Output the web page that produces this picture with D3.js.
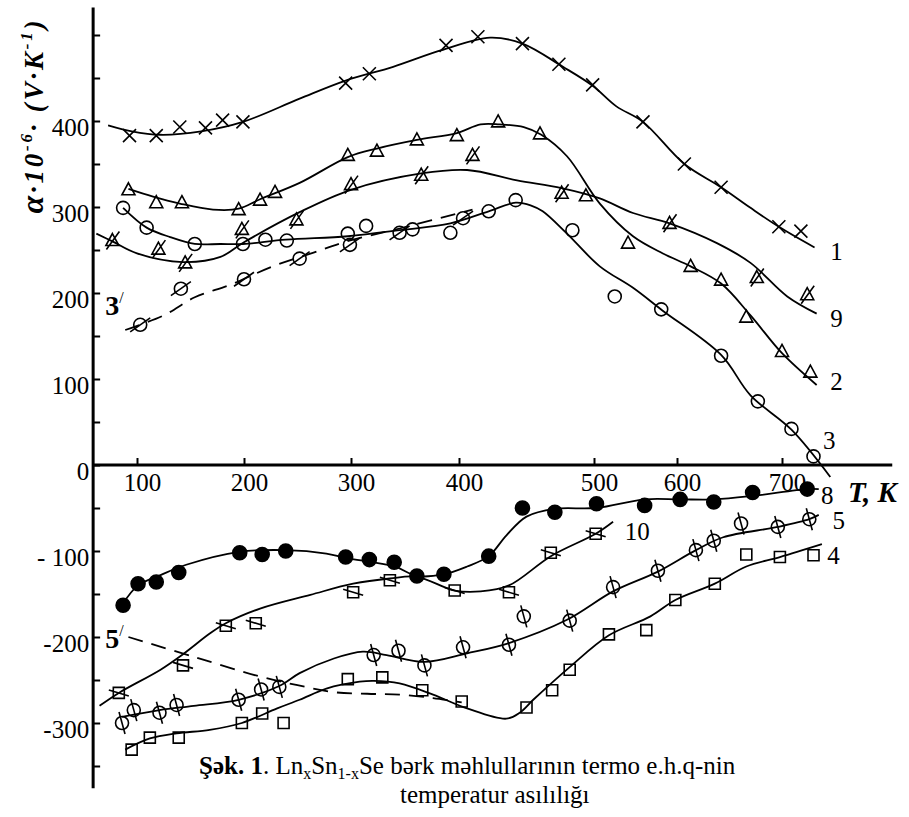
<!DOCTYPE html>
<html>
<head>
<meta charset="utf-8">
<script src="https://cdn.jsdelivr.net/npm/d3@7/dist/d3.min.js"></script>
<style>
body { margin: 0; background: #fff; }
svg text { font-family: "Liberation Serif", "Times New Roman", serif; }
</style>
</head>
<body>
<div id="chart"></div>
<script>
// temperature ticks of the x axis (hand drawn: the ticks are not evenly spaced)
var xTickValues = [100, 200, 300, 400, 500, 600, 700];
var xTickPixels = [137, 244, 351, 459, 594, 677, 782];

var yTickValues = [-350, -300, -250, -200, -150, -100, -50, 0, 50, 100, 150, 200, 250, 300, 350, 400, 450, 500];
var yLabelValues = [-300, -200, -100, 0, 100, 200, 300, 400];
var yLabelTexts = ["-300", "-200", "- 100", "0", "100", "200", "300", "400"];

// [T (K), alpha (µV/K)] measured points and the drawn curves, per sample
var pts1 = [[93,383],[118,383],[140,393],[164,392],[180,401],[199,399],[295,444],[317,455],[388,488],[414,498],[447,490],[474,466],[499,442],[559,399],[607,350],[642,323],[697,277],[718,272]];
var line1 = [[73,395],[95,388],[122,384],[160,388],[199,399],[252,426],[295,447],[339,463],[383,482],[423,497],[447,490],[477,463],[499,441],[527,417],[559,399],[607,350],[642,323],[670,299],[697,277],[731,253]];

var pts9 = [[77,261],[120,251],[145,235],[198,274],[249,285],[300,326],[365,337],[410,360],[476,316],[591,281],[676,218],[724,198]];
var line9 = [[62,269],[77,260],[100,246],[143,236],[178,242],[200,259],[252,294],[300,320],[365,339],[406,343],[443,331],[476,322],[507,310],[547,293],[591,281],[638,258],[670,235],[705,196],[733,176]];

var pts2 = [[92,320],[118,305],[142,305],[195,297],[215,308],[229,317],[297,360],[324,365],[361,378],[398,383],[429,399],[460,385],[494,313],[541,258],[613,231],[642,215],[666,172],[700,132],[727,108]];
var line2 = [[92,321],[115,312],[140,304],[171,297],[195,298],[215,309],[252,328],[297,358],[324,368],[361,378],[398,386],[416,396],[430,396],[448,393],[461,384],[480,359],[507,304],[547,266],[583,246],[613,231],[642,211],[670,174],[700,130],[733,93]];

var pts3 = [[87,299],[109,276],[154,257],[199,257],[220,262],[240,261],[297,269],[314,278],[357,274],[392,270],[422,295],[442,308],[484,273],[525,196],[581,181],[642,127],[677,74],[709,42],[730,10]];
var line3 = [[87,299],[109,276],[131,265],[154,257],[178,257],[199,257],[239,262],[297,266],[345,273],[392,281],[422,295],[442,305],[453,302],[462,295],[480,269],[507,231],[547,206],[582,180],[642,128],[670,81],[709,41],[746,-14]];

var pts3p = [[103,163],[141,205],[200,216],[252,240],[299,256],[345,270],[403,287]];
var line3p = [[89,157],[125,174],[154,195],[188,210],[227,231],[265,247],[296,260],[345,275],[410,297]];

var pts8 = [[87,-163],[101,-138],[118,-136],[139,-125],[196,-102],[217,-104],[239,-100],[295,-107],[317,-110],[340,-113],[361,-129],[386,-127],[422,-106],[447,-50],[471,-55],[503,-45],[561,-47],[603,-40],[635,-43],[672,-32],[724,-28]];
var line8 = [[87,-161],[101,-140],[122,-128],[146,-116],[196,-101],[239,-99],[277,-103],[295,-108],[340,-118],[361,-129],[386,-127],[406,-118],[422,-106],[435,-82],[450,-60],[471,-51],[503,-50],[561,-40],[603,-40],[636,-40],[672,-36],[724,-28],[735,-28]];

var pts10 = [[83,-265],[143,-233],[183,-187],[211,-184],[302,-148],[336,-134],[396,-146],[437,-148],[468,-102],[502,-80]];
var line10 = [[65,-280],[83,-265],[122,-238],[143,-220],[168,-196],[183,-184],[215,-167],[262,-151],[302,-138],[336,-132],[361,-130],[396,-146],[416,-147],[437,-140],[468,-106],[502,-80],[523,-66]];

var pts5 = [[86,-300],[97,-285],[121,-288],[137,-279],[195,-273],[216,-261],[233,-258],[321,-221],[344,-216],[368,-233],[403,-212],[437,-209],[448,-176],[482,-181],[523,-142],[577,-123],[618,-99],[635,-88],[661,-68],[696,-72],[726,-63]];
var line5 = [[86,-293],[121,-285],[153,-280],[195,-273],[233,-257],[252,-242],[284,-225],[311,-217],[333,-221],[368,-229],[406,-219],[437,-207],[480,-180],[523,-147],[577,-124],[618,-99],[644,-84],[696,-72],[726,-63],[735,-58]];

var line5p = [[92,-200],[153,-223],[215,-246],[250,-256],[283,-264],[315,-266],[345,-267],[376,-271],[402,-276]];

var pts4 = [[95,-331],[112,-317],[139,-317],[198,-300],[217,-289],[237,-300],[297,-249],[329,-247],[366,-262],[402,-275],[450,-282],[469,-262],[482,-238],[518,-197],[563,-192],[598,-157],[636,-138],[666,-104],[698,-107],[730,-105]];
var line4 = [[89,-331],[112,-318],[137,-312],[168,-308],[198,-300],[231,-283],[252,-273],[277,-260],[308,-252],[321,-251],[345,-254],[376,-267],[406,-283],[435,-295],[445,-288],[455,-273],[482,-235],[518,-198],[568,-176],[598,-157],[636,-138],[666,-118],[698,-107],[738,-92]];

// curve numbers: [text, T, alpha] at the label centre
var curveLabels = [["1",752,248],["9",752,171],["2",752,97],["3",745,29],["8",743,-35],["5",754,-64],["4",749,-105],["10",552,-77]];
var primeLabels = [["3",79,186],["5",79,-201]];

var Y_AXIS_AT = 59;     // temperature where the alpha axis stands
var X_AXIS_END = 805;
var Y_TOP = 532;
var Y_BOTTOM = -376;

var svg = d3.select("#chart")
			.append("svg")
			.attr("width", 909)
			.attr("height", 817)
			.attr("font-family", "Liberation Serif");

svg.append("rect").attr("width", 909).attr("height", 817).attr("fill", "#fff");

var x = d3.scaleLinear()
			.domain(xTickValues)
			.range(xTickPixels);

var y = d3.scaleLinear()
			.domain([-350, 500])
			.range([766, 35]);

var line = d3.line()
			.x(function(d) { return x(d[0]); })
			.y(function(d) { return y(d[1]); })
			.curve(d3.curveCatmullRom.alpha(0.5));

//axes
var xAxis = d3.axisBottom(x)
			.tickValues(xTickValues)
			.tickSize(-7)
			.tickPadding(8)
			.tickFormat(function(d) { return d; });

var gx = svg.append("g")
			.attr("transform", "translate(0," + y(0) + ")")
			.call(xAxis);
gx.select(".domain").remove();
gx.selectAll("line").attr("stroke-width", 2);
gx.attr("font-size", 25).attr("font-family", null);
gx.selectAll("text").attr("dx", 5);

var yAxis = d3.axisLeft(y)
			.tickValues(yTickValues)
			.tickSize(-7)
			.tickPadding(4)
			.tickFormat(function(d) {
				var i = yLabelValues.indexOf(d);
				return i < 0 ? "" : yLabelTexts[i];
			});

var gy = svg.append("g")
			.attr("transform", "translate(" + x(Y_AXIS_AT) + ",0)")
			.call(yAxis);
gy.select(".domain").remove();
gy.selectAll("line").attr("stroke-width", 2);
gy.attr("font-size", 25).attr("font-family", null);
gy.selectAll("text").attr("dy", "0.58em");

svg.append("line")
	.attr("x1", x(Y_AXIS_AT)).attr("x2", x(Y_AXIS_AT))
	.attr("y1", y(Y_TOP)).attr("y2", y(Y_BOTTOM))
	.attr("stroke", "#000").attr("stroke-width", 3);

svg.append("line")
	.attr("x1", x(Y_AXIS_AT)).attr("x2", x(X_AXIS_END))
	.attr("y1", y(0)).attr("y2", y(0))
	.attr("stroke", "#000").attr("stroke-width", 3);

//curves
var curves = [
	{pts: pts1, line: line1, mark: "cross"},
	{pts: pts9, line: line9, mark: "triSlash"},
	{pts: pts2, line: line2, mark: "tri"},
	{pts: pts3, line: line3, mark: "circle"},
	{pts: pts3p, line: line3p, mark: "circleSlash", dash: true},
	{pts: pts8, line: line8, mark: "dot"},
	{pts: pts10, line: line10, mark: "squareSlash"},
	{pts: pts5, line: line5, mark: "phi"},
	{pts: [], line: line5p, mark: "", dash: true},
	{pts: pts4, line: line4, mark: "square"}
];

var MARK_PATHS = {
	cross: "M-6.5,-6.5L6.5,6.5M-6.5,6.5L6.5,-6.5",
	tri: "M0,-7L6.5,5L-6.5,5Z",
	triSlash: "M0,-7L6.5,5L-6.5,5Z M-6,9L7,-9",
	circleSlash: "M-10,7L10,-7",
	phi: "M-3,-11L3,11",
	square: "M-5.5,-5.5H5.5V5.5H-5.5Z",
	squareSlash: "M-5.5,-5.5H5.5V5.5H-5.5Z M-10,-3L10,3"
};

var plot = svg.append("g");

curves.forEach(function(c)
{
	plot.append("path")
		.datum(c.line)
		.attr("fill", "none")
		.attr("stroke", "#000")
		.attr("stroke-width", 1.8)
		.attr("stroke-dasharray", c.dash ? "15,9" : null)
		.attr("d", line);

	var m = plot.selectAll(null)
		.data(c.pts)
		.enter().append("g")
		.attr("transform", function(d) { return "translate(" + x(d[0]) + "," + y(d[1]) + ")"; });

	if (c.mark == "circle" || c.mark == "circleSlash" || c.mark == "phi" || c.mark == "dot")
	{
		m.append("circle")
			.attr("r", c.mark == "dot" ? 7 : 6.5)
			.attr("fill", c.mark == "dot" ? "#000" : "none")
			.attr("stroke", "#000")
			.attr("stroke-width", 1.6);
	}
	if (MARK_PATHS[c.mark])
	{
		m.append("path")
			.attr("d", MARK_PATHS[c.mark])
			.attr("fill", "none")
			.attr("stroke", "#000")
			.attr("stroke-width", 1.6);
	}
});

//labels
svg.selectAll(null)
	.data(curveLabels)
	.enter().append("text")
	.attr("x", function(d) { return x(d[1]); })
	.attr("y", function(d) { return y(d[2]); })
	.attr("dy", "0.35em")
	.attr("text-anchor", "middle")
	.attr("font-size", 25)
	.text(function(d) { return d[0]; });

var pl = svg.selectAll(null)
	.data(primeLabels)
	.enter().append("text")
	.attr("x", function(d) { return x(d[1]); })
	.attr("y", function(d) { return y(d[2]); })
	.attr("dy", "0.35em")
	.attr("text-anchor", "middle")
	.attr("font-size", 28)
	.attr("font-weight", "bold");
pl.append("tspan").text(function(d) { return d[0]; });
pl.append("tspan").attr("font-size", 16).attr("font-weight", "normal").attr("dy", -12).text("/");

//axis titles
var yt = svg.append("text")
	.attr("transform", "translate(43,117) rotate(-90)")
	.attr("text-anchor", "middle")
	.attr("font-size", 27)
	.attr("font-weight", "bold")
	.attr("font-style", "italic")
	.attr("textLength", 193)
	.attr("lengthAdjust", "spacing");
yt.append("tspan").attr("font-size", 32).text("α");
yt.append("tspan").text("·10");
yt.append("tspan").attr("font-size", 17).attr("dy", -11).text("-6");
yt.append("tspan").attr("dy", 11).text("· (V·K");
yt.append("tspan").attr("font-size", 17).attr("dy", -11).text("-1");
yt.append("tspan").attr("dy", 11).text(")");

svg.append("text")
	.attr("x", 848)
	.attr("y", 502)
	.attr("font-size", 29)
	.attr("font-weight", "bold")
	.attr("font-style", "italic")
	.text("T, K");

//caption
var cap = svg.append("text")
	.attr("x", 199)
	.attr("y", 774)
	.attr("font-size", 25);
cap.append("tspan").attr("font-weight", "bold").text("Şək. 1");
cap.append("tspan").text(". Ln");
cap.append("tspan").attr("font-size", 16).attr("dy", 5).text("x");
cap.append("tspan").attr("dy", -5).text("Sn");
cap.append("tspan").attr("font-size", 16).attr("dy", 5).text("1-x");
cap.append("tspan").attr("dy", -5).text("Se bərk məhlullarının termo e.h.q-nin");

svg.append("text")
	.attr("x", 400)
	.attr("y", 803)
	.attr("font-size", 25)
	.text("temperatur asılılığı");
</script>
</body>
</html>
